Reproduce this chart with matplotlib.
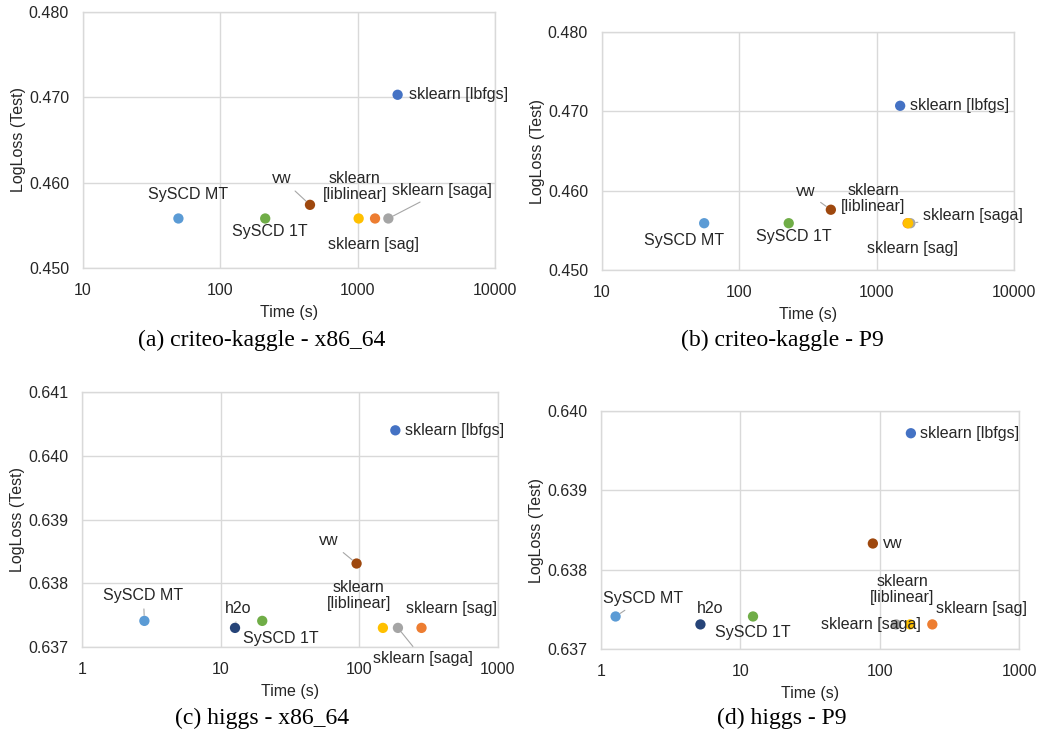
import matplotlib
matplotlib.use("Agg")
import matplotlib.pyplot as plt
from matplotlib.ticker import FixedLocator, FixedFormatter, NullLocator

METHODS = ["sklearn [lbfgs]", "SySCD MT", "SySCD 1T", "vw", "h2o",
           "sklearn [sag]", "sklearn [saga]", "sklearn [liblinear]"]
LABELS = ["sklearn [lbfgs]", "SySCD MT", "SySCD 1T", "vw", "h2o",
          "sklearn [sag]", "sklearn [saga]", "sklearn\n[liblinear]"]
COLORS = ["#4472C4", "#5B9BD5", "#70AD47", "#9E480E", "#264478",
          "#ED7D31", "#A5A5A5", "#FFC000"]

# time (s) and test logloss per method, None = not run
crit_x86_time = [1950, 49.5, 212, 449, None, 1336, 1670, 1015]
crit_x86_loss = [0.4703, 0.4558, 0.4558, 0.4574, None, 0.4558, 0.4558, 0.4558]
crit_p9_time = [1483, 55.5, 229, 464, None, 1680, 1760, 1695]
crit_p9_loss = [0.4707, 0.4559, 0.4559, 0.4576, None, 0.4559, 0.4559, 0.4559]
higgs_x86_time = [182, 2.82, 19.96, 95.6, 12.7, 281, 190, 148]
higgs_x86_loss = [0.6404, 0.63741, 0.63741, 0.63831, 0.63730, 0.63730, 0.63730, 0.63730]
higgs_p9_time = [167, 1.27, 12.3, 89.1, 5.16, 238, 131, 165]
higgs_p9_loss = [0.63972, 0.63741, 0.63741, 0.63833, 0.63731, 0.63731, 0.63731, 0.63731]

CAPTIONS = ["(a) criteo-kaggle - x86_64", "(b) criteo-kaggle - P9",
            "(c) higgs - x86_64", "(d) higgs - P9"]
CRIT_XTICKS = [10, 100, 1000, 10000]
CRIT_YTICKS = [0.450, 0.460, 0.470, 0.480]
HIGGS_XTICKS = [1, 10, 100, 1000]
HIGGS_X86_YTICKS = [0.637, 0.638, 0.639, 0.640, 0.641]
HIGGS_P9_YTICKS = [0.637, 0.638, 0.639, 0.640]

# layout: label offsets in pixels (dx, dy, ha, leader)
OFFS = [
    {0: (11, 0, "left", False), 1: (10, 24, "center", False), 2: (5, -13, "center", False),
     3: (-28, 26, "center", True), 5: (-2, -26, "center", False),
     6: (54, 28, "center", True), 7: (-4, 32, "center", False)},
    {0: (10, 0, "left", False), 1: (-20, -17, "center", False), 2: (5, -13, "center", False),
     3: (-25, 18, "center", True), 5: (5, -25, "center", False),
     6: (13, 8, "left", True), 7: (-35, 25, "center", False)},
    {0: (10, 0, "left", False), 1: (-1, 25, "center", True), 2: (19, -18, "center", False),
     3: (-28, 23, "center", True), 4: (3, 19, "center", True), 5: (30, 19, "center", False),
     6: (25, -31, "center", True), 7: (-24, 32, "center", False)},
    {0: (9, 0, "left", False), 1: (27, 18, "center", True), 2: (0, -16, "center", False),
     3: (10, 0, "left", False), 4: (10, 16, "center", False), 5: (49, 16, "center", False),
     6: (-25, 0, "center", False), 7: (-8, 35, "center", False)},
]

POS = [
    [0.0798, 0.6364, 0.3963, 0.3473],
    [0.5788, 0.6336, 0.3962, 0.3230],
    [0.0788, 0.1221, 0.4000, 0.3459],
    [0.5780, 0.1194, 0.4020, 0.3229],
]
CAP_XY = [(0.252, 0.5387), (0.752, 0.5387), (0.252, 0.0258), (0.752, 0.0258)]

plt.rcParams["font.family"] = ["Liberation Sans", "DejaVu Sans"]
TXT = "#262626"
GRID = "#d9d9d9"
FS = 11.5

fig = plt.figure(figsize=(10.4, 7.37), dpi=100)

panels = [
    (crit_x86_time, crit_x86_loss, CRIT_XTICKS, CRIT_YTICKS),
    (crit_p9_time, crit_p9_loss, CRIT_XTICKS, CRIT_YTICKS),
    (higgs_x86_time, higgs_x86_loss, HIGGS_XTICKS, HIGGS_X86_YTICKS),
    (higgs_p9_time, higgs_p9_loss, HIGGS_XTICKS, HIGGS_P9_YTICKS),
]

for k, (times, losses, xt, yt) in enumerate(panels):
    ax = fig.add_axes(POS[k])
    ax.set_xscale("log")
    ax.set_xlim(xt[0], xt[-1])
    ax.set_ylim(yt[0], yt[-1])
    ax.xaxis.set_major_locator(FixedLocator(xt))
    ax.xaxis.set_major_formatter(FixedFormatter([str(v) for v in xt]))
    ax.xaxis.set_minor_locator(NullLocator())
    ax.set_yticks(yt)
    ax.set_yticklabels([f"{v:.3f}" for v in yt])
    ax.tick_params(length=0, labelsize=FS, colors=TXT)
    ax.tick_params(axis="x", pad=11)
    ax.tick_params(axis="y", pad=10)
    ax.grid(True, color=GRID, lw=1.0)
    ax.set_axisbelow(True)
    for s in ax.spines.values():
        s.set_color(GRID)
        s.set_linewidth(1.0)
    ax.set_xlabel("Time (s)", fontsize=FS, color=TXT, labelpad=5)
    ax.set_ylabel("LogLoss (Test)", fontsize=FS, color=TXT, labelpad=2)

    for i in range(len(METHODS)):
        if times[i] is None:
            continue
        ax.scatter(times[i], losses[i], s=55, color=COLORS[i], zorder=3,
                   edgecolors="none", clip_on=False)
    for i, (dx, dy, ha, leader) in OFFS[k].items():
        if times[i] is None:
            continue
        arrow = dict(arrowstyle="-", color="#a6a6a6", lw=0.8,
                     shrinkA=2, shrinkB=4) if leader else None
        ax.annotate(LABELS[i], (times[i], losses[i]), xytext=(dx, dy),
                    textcoords="offset pixels", ha=ha, va="center",
                    fontsize=FS, color=TXT, linespacing=1.1,
                    arrowprops=arrow, zorder=4)

    fig.text(CAP_XY[k][0], CAP_XY[k][1], CAPTIONS[k],
             ha="center", va="center", fontsize=17,
             family=["Liberation Serif", "DejaVu Serif"], color="black")

fig.savefig("out.png", dpi=100)
